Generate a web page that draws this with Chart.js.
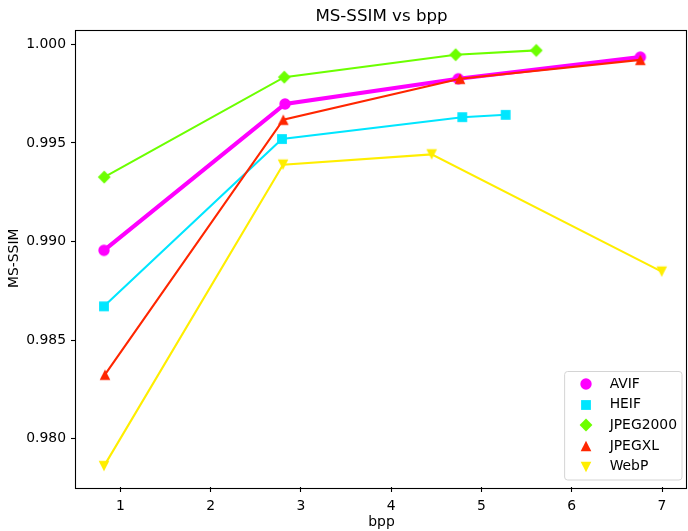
<!DOCTYPE html>
<html>
<head>
<meta charset="utf-8">
<title>MS-SSIM vs bpp</title>
<script src="https://cdn.jsdelivr.net/npm/chart.js@4/dist/chart.umd.min.js"></script>
<style>
  html, body { margin: 0; padding: 0; background: #fff; overflow: hidden; }
  #wrap { width: 688px; height: 531px; position: relative; }
  #chart { display: block; }
</style>
</head>
<body>
<div id="wrap"><canvas id="chart"></canvas></div>
<script>
// Codec names and their rate/quality measurements (bits per pixel vs MS-SSIM)
const CODECS = ['AVIF', 'HEIF', 'JPEG2000', 'JPEGXL', 'WebP'];

const AVIF_BPP = [0.817, 2.823, 4.743, 6.760];
const AVIF_SSIM = [0.98955, 0.99698, 0.99826, 0.99936];

const HEIF_BPP = [0.817, 2.789, 4.787, 5.268];
const HEIF_SSIM = [0.98671, 0.99520, 0.99631, 0.99643];

const JPEG2000_BPP = [0.820, 2.815, 4.714, 5.607];
const JPEG2000_SSIM = [0.99327, 0.99834, 0.99948, 0.99970];

const JPEGXL_BPP = [0.828, 2.804, 4.762, 6.760];
const JPEGXL_SSIM = [0.98324, 0.99618, 0.99826, 0.99922];

const WEBP_BPP = [0.817, 2.801, 4.448, 6.997];
const WEBP_SSIM = [0.97860, 0.99390, 0.99442, 0.98847];

const X_TICKS = [1, 2, 3, 4, 5, 6, 7];
const Y_TICKS = [0.980, 0.985, 0.990, 0.995, 1.000];

const FONT = '"DejaVu Sans", "Liberation Sans", sans-serif';
const PX10 = 13.9;   // 10pt at 100 dpi
const PX12 = 16.67;  // 12pt at 100 dpi

// Marker sprites shared by the plot and the legend
function makeMarker(shape, color) {
  const S = 18, c = S / 2;
  const cv = document.createElement('canvas');
  cv.width = S; cv.height = S;
  const g = cv.getContext('2d');
  g.fillStyle = color;
  g.beginPath();
  if (shape === 'circle') {
    g.arc(c, c, 5.7, 0, Math.PI * 2);
  } else if (shape === 'square') {
    g.rect(c - 4.9, c - 4.9, 9.8, 9.8);
  } else if (shape === 'diamond') {
    g.moveTo(c, c - 6.4); g.lineTo(c + 6.4, c); g.lineTo(c, c + 6.4); g.lineTo(c - 6.4, c);
  } else if (shape === 'up') {
    g.moveTo(c, c - 5.3); g.lineTo(c + 5.3, c + 5.3); g.lineTo(c - 5.3, c + 5.3);
  } else if (shape === 'down') {
    g.moveTo(c, c + 5.3); g.lineTo(c + 5.3, c - 5.3); g.lineTo(c - 5.3, c - 5.3);
  }
  g.closePath();
  g.fill();
  return cv;
}

function series(xs, ys) {
  return xs.map((x, i) => ({ x: x, y: ys[i] }));
}

const STYLE = [
  { color: '#ff00ff', shape: 'circle',  width: 4.2 },
  { color: '#00e6ff', shape: 'square',  width: 2.1 },
  { color: '#6cff00', shape: 'diamond', width: 2.1 },
  { color: '#ff2600', shape: 'up',      width: 2.1 },
  { color: '#ffee00', shape: 'down',    width: 2.1 }
];

const SERIES = [
  series(AVIF_BPP, AVIF_SSIM),
  series(HEIF_BPP, HEIF_SSIM),
  series(JPEG2000_BPP, JPEG2000_SSIM),
  series(JPEGXL_BPP, JPEGXL_SSIM),
  series(WEBP_BPP, WEBP_SSIM)
];

const datasets = CODECS.map((name, i) => {
  const marker = makeMarker(STYLE[i].shape, STYLE[i].color);
  return {
    label: name,
    data: SERIES[i],
    showLine: true,
    borderColor: STYLE[i].color,
    backgroundColor: STYLE[i].color,
    borderWidth: STYLE[i].width,
    pointStyle: marker,
    pointRadius: 6,
    pointHoverRadius: 6,
    order: CODECS.length - i,
    tension: 0,
    clip: false
  };
});

// Title above the axes, centred on the plot area
const titlePlugin = {
  id: 'axesTitle',
  afterDraw(chart) {
    const { ctx, chartArea } = chart;
    ctx.save();
    ctx.fillStyle = '#000';
    ctx.font = PX12 + 'px ' + FONT;
    ctx.textAlign = 'center';
    ctx.textBaseline = 'middle';
    ctx.fillText('MS-SSIM vs bpp', (chartArea.left + chartArea.right) / 2, chartArea.top - 13);
    ctx.restore();
  }
};

// Full rectangular frame around the plot area
const framePlugin = {
  id: 'frame',
  afterDatasetsDraw(chart) {
    const { ctx, chartArea } = chart;
    ctx.save();
    ctx.strokeStyle = '#000';
    ctx.lineWidth = 1.1;
    ctx.strokeRect(Math.round(chartArea.left) - 0.5, Math.round(chartArea.top) + 0.5,
                   Math.round(chartArea.right - chartArea.left),
                   Math.round(chartArea.bottom - chartArea.top));
    ctx.restore();
  }
};

// Legend box in the lower-right corner of the plot area
const legendPlugin = {
  id: 'boxLegend',
  afterDraw(chart) {
    const { ctx, chartArea } = chart;
    const sets = chart.data.datasets;
    ctx.save();
    ctx.font = PX10 + 'px ' + FONT;
    let maxW = 0;
    sets.forEach(d => { maxW = Math.max(maxW, ctx.measureText(d.label).width); });
    const rowH = 20.7;
    const boxW = 45 + maxW + 5;
    const boxH = rowH * sets.length + 5;
    const x0 = chartArea.right - 5 - boxW;
    const y0 = chartArea.bottom - 7 - boxH;
    const r = 3;
    ctx.beginPath();
    ctx.moveTo(x0 + r, y0);
    ctx.arcTo(x0 + boxW, y0, x0 + boxW, y0 + boxH, r);
    ctx.arcTo(x0 + boxW, y0 + boxH, x0, y0 + boxH, r);
    ctx.arcTo(x0, y0 + boxH, x0, y0, r);
    ctx.arcTo(x0, y0, x0 + boxW, y0, r);
    ctx.closePath();
    ctx.fillStyle = 'rgba(255,255,255,0.8)';
    ctx.fill();
    ctx.strokeStyle = '#d4d4d4';
    ctx.lineWidth = 1;
    ctx.stroke();
    ctx.fillStyle = '#000';
    ctx.textAlign = 'left';
    ctx.textBaseline = 'middle';
    sets.forEach((d, i) => {
      const cy = y0 + 12.5 + i * rowH;
      const img = d.pointStyle;
      ctx.drawImage(img, Math.round(x0 + 21 - img.width / 2), Math.round(cy - img.height / 2));
      ctx.fillText(d.label, x0 + 45, cy);
    });
    ctx.restore();
  }
};

Chart.defaults.font.family = FONT;
Chart.defaults.font.size = PX10;
Chart.defaults.color = '#000';

new Chart(document.getElementById('chart'), {
  type: 'scatter',
  data: { datasets: datasets },
  options: {
    responsive: true,
    maintainAspectRatio: false,
    animation: false,
    devicePixelRatio: 1,
    layout: { autoPadding: false, padding: { top: 29.5, right: 1, left: 0, bottom: 0 } },
    plugins: {
      legend: { display: false },
      title: { display: false },
      tooltip: { enabled: false }
    },
    scales: {
      x: {
        type: 'linear',
        min: 0.507,
        max: 7.277,
        afterBuildTicks(scale) { scale.ticks = X_TICKS.map(v => ({ value: v })); },
        afterFit(scale) {
          scale.height = 44;
          scale.paddingLeft = 0;
          scale.paddingRight = 0;
        },
        ticks: {
          padding: 6,
          color: '#000',
          font: { size: PX10 },
          callback: v => String(v)
        },
        grid: {
          display: true,
          drawOnChartArea: false,
          drawTicks: true,
          tickLength: 5,
          tickWidth: 1.1,
          tickColor: '#000'
        },
        border: { display: false },
        title: {
          display: true,
          text: 'bpp',
          color: '#000',
          font: { size: PX10 },
          padding: { top: 0, bottom: 0 }
        }
      },
      y: {
        type: 'linear',
        min: 0.97754,
        max: 1.00076,
        afterBuildTicks(scale) { scale.ticks = Y_TICKS.map(v => ({ value: v })); },
        afterFit(scale) {
          scale.width = 76;
          scale.paddingTop = 0;
          scale.paddingBottom = 0;
        },
        ticks: {
          padding: 5,
          color: '#000',
          font: { size: PX10 },
          callback: v => Number(v).toFixed(3)
        },
        grid: {
          display: true,
          drawOnChartArea: false,
          drawTicks: true,
          tickLength: 5,
          tickWidth: 1.1,
          tickColor: '#000'
        },
        border: { display: false },
        title: {
          display: true,
          text: 'MS-SSIM',
          color: '#000',
          font: { size: PX10 },
          padding: { top: 6, bottom: 0 }
        }
      }
    }
  },
  plugins: [titlePlugin, framePlugin, legendPlugin]
});
</script>
</body>
</html>
